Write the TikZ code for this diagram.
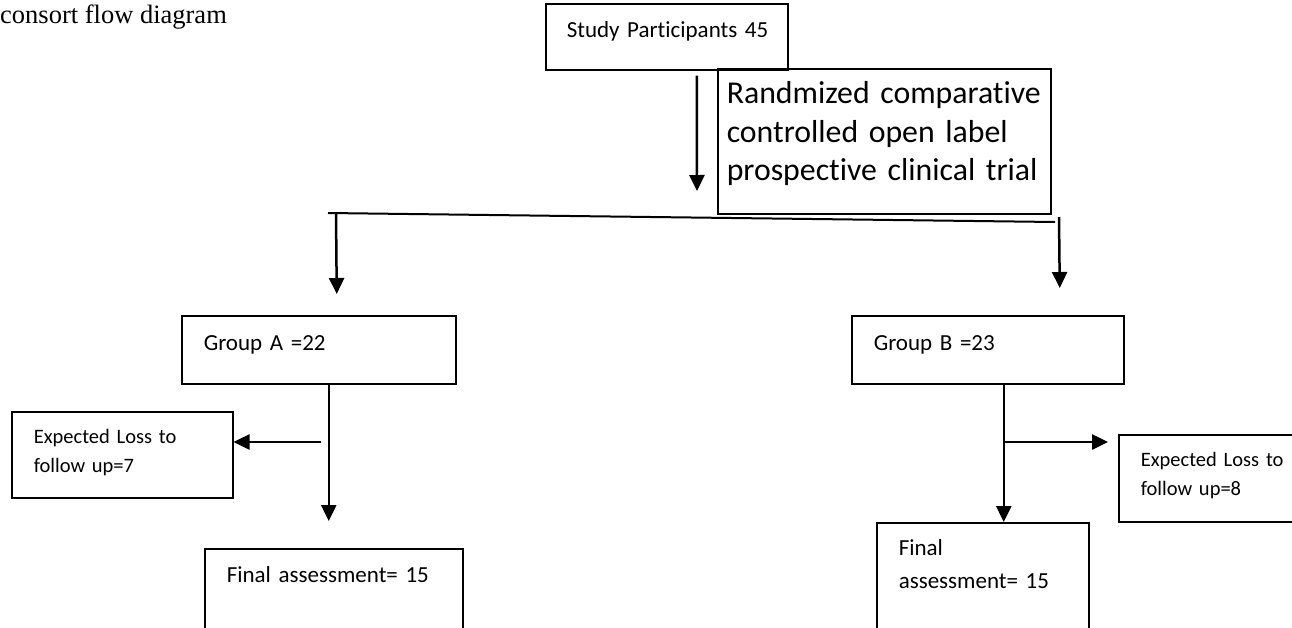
\documentclass[tikz,border=0pt]{standalone}
\usepackage{fontspec}
\setmainfont{Liberation Serif}
\newfontfamily\carlito[Ligatures=NoCommon]{Carlito}
\usetikzlibrary{arrows.meta, calc, positioning}

\begin{document}
\begin{tikzpicture}[x=1pt, y=-1pt, >={Triangle[width=15pt,length=16pt]},
    box/.style={draw, line width=1.5pt, anchor=north west, align=left,
        inner ysep=0pt, inner xsep=22pt, font=\carlito\fontsize{23}{28}\selectfont},
    small/.style={font=\carlito\fontsize{20.5}{29}\selectfont},
    arr/.style={->, line width=2.5pt},
    link/.style={line width=2pt}]
\useasboundingbox (0,0) rectangle (1292,627);
\node[anchor=base west, inner sep=0pt, font=\fontsize{26.5}{30}\selectfont] (title) at (0,23) {consort flow diagram};
% boxes
\node[box, text width=200pt, inner xsep=21pt, text height=34pt, text depth=32pt] (study) at (545,3) {\mbox{Study Participants 45}};
\node[box, text width=315pt, inner xsep=9pt, text height=35pt, text depth=110pt,
    font=\carlito\fontsize{31.8}{38.5}\selectfont] (rand) at (717,68) {\mbox{Randmized comparative}\\\mbox{controlled open label}\\\mbox{prospective clinical trial}};
\node[box, text width=230pt, text height=35pt, text depth=33pt] (grpA) at (181,315) {Group A =22};
\node[box, text width=228pt, text height=35pt, text depth=33pt] (grpB) at (851,315) {Group B =23};
\node[box, small, text width=177pt, text height=32pt, text depth=54pt] (lossA) at (11,411) {Expected Loss to\\follow up=7};
\node[box, small, text width=160pt, text height=32pt, text depth=55pt] (lossB) at (1118,434) {Expected Loss to\\follow up=8};
\node[box, text width=214pt, text height=34pt, text depth=48pt] (finA) at (204,548) {Final assessment= 15};
\node[box, text width=168pt, text height=33pt, text depth=75pt,
    font=\carlito\fontsize{23}{33}\selectfont] (finB) at (876,522) {Final\\assessment= 15};
% split
\coordinate (bl) at (328,213);
\coordinate (br) at (1055,222);
\coordinate (top) at (697,191);
\coordinate (ja) at (321,442);
\coordinate (jb) at (1003,442);
\draw[arr] ([xshift=30pt,yshift=-5pt]study.south) -- (top);
\draw[link] (bl) -- (br);
\draw[arr] ($(bl)+(8,0)$) -- ($(grpA.north)+(18,-21)$);
\draw[arr] ($(br)+(4,-5)$) -- ($(grpB.north)+(72,-27)$);
% group A
\draw[arr] ($(grpA.south)+(10,0)$) -- ($(finA.north)+(-5,-27)$);
\draw[arr] (ja) -- (ja -| lossA.east);
% group B
\draw[arr] ($(grpB.south)+(16,0)$) -- ($(finB.north)+(21,0)$);
\draw[arr] (jb) -- ($(jb -| lossB.west)+(-10,0)$);
\end{tikzpicture}
\end{document}
